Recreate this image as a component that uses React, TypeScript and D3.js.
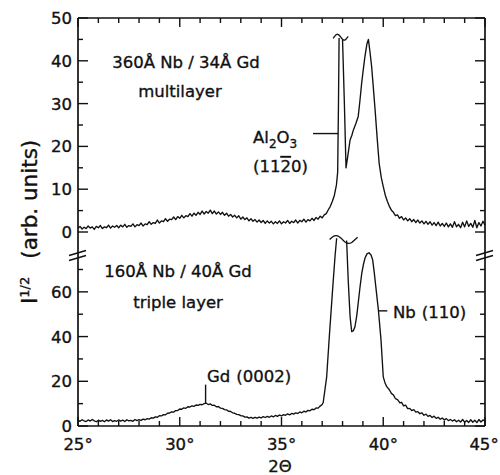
import React from "react";
import * as d3 from "d3";

// ---- data: [2θ (deg), I^1/2 (arb. units)]; NaN marks the off-scale (broken) top of the substrate peak
const multilayer: [number, number][] = [
  [25.0,0.9],[25.1,1.3],[25.2,0.7],[25.3,1.1],[25.4,0.8],[25.5,1.4],[25.6,0.9],[25.7,1.2],[25.8,0.6],[25.9,1.3],
  [26.0,1.0],[26.1,1.5],[26.2,0.8],[26.3,1.2],[26.4,1.0],[26.5,1.6],[26.6,0.9],[26.7,1.4],[26.8,1.1],[26.9,1.5],
  [27.0,1.0],[27.1,1.6],[27.2,1.2],[27.3,1.8],[27.4,1.1],[27.5,1.5],[27.6,1.3],[27.7,1.9],[27.8,1.2],[27.9,1.7],
  [28.0,1.5],[28.1,2.1],[28.2,1.4],[28.3,1.9],[28.4,1.7],[28.5,2.4],[28.6,1.8],[28.7,2.2],[28.8,2.0],[28.9,2.8],
  [29.0,2.1],[29.1,2.6],[29.2,2.4],[29.3,3.1],[29.4,2.5],[29.5,3.0],[29.6,2.9],[29.7,3.5],[29.8,2.9],[29.9,3.6],
  [30.0,3.2],[30.1,3.9],[30.2,3.3],[30.3,3.8],[30.4,3.6],[30.5,4.3],[30.6,3.7],[30.7,4.4],[30.8,3.9],[30.9,4.6],
  [31.0,4.1],[31.1,4.9],[31.2,4.2],[31.3,4.8],[31.4,4.4],[31.5,5.1],[31.6,4.3],[31.7,4.9],[31.8,4.2],[31.9,4.7],
  [32.0,4.1],[32.1,4.6],[32.2,3.9],[32.3,4.4],[32.4,3.7],[32.5,4.1],[32.6,3.5],[32.7,3.9],[32.8,3.3],[32.9,3.8],
  [33.0,3.0],[33.1,3.5],[33.2,2.9],[33.3,3.3],[33.4,2.6],[33.5,3.1],[33.6,2.5],[33.7,2.9],[33.8,2.3],[33.9,2.8],
  [34.0,2.2],[34.1,2.7],[34.2,2.0],[34.3,2.6],[34.4,2.1],[34.5,2.5],[34.6,1.9],[34.7,2.4],[34.8,2.0],[34.9,2.6],
  [35.0,1.9],[35.1,2.4],[35.2,2.1],[35.3,2.7],[35.4,2.0],[35.5,2.5],[35.6,2.2],[35.7,2.8],[35.8,2.1],[35.9,2.7],
  [36.0,2.4],[36.1,3.0],[36.2,2.3],[36.3,2.9],[36.4,2.6],[36.5,3.2],[36.6,2.7],[36.7,3.4],[36.8,3.0],[36.9,3.7],
  [37.0,3.3],[37.1,4.0],[37.2,4.3],[37.3,5.2],[37.4,6.0],[37.5,7.2],[37.6,8.6],[37.7,11.0],[37.76,14.0],[37.8,30.0],
  [37.83,45.3],[37.9,NaN],[38.0,44.9],[38.09,30.0],[38.17,15.0],[38.25,17.5],[38.37,21.5],[38.45,22.5],[38.53,23.8],
  [38.66,25.4],[38.77,27.0],[38.85,30.5],[38.94,34.8],[39.02,38.0],[39.1,41.0],[39.2,44.0],[39.27,45.0],[39.35,42.0],
  [39.43,38.6],[39.5,34.5],[39.6,28.5],[39.7,22.0],[39.8,16.0],[39.9,12.8],[40.0,10.6],[40.1,8.6],[40.2,7.2],
  [40.3,6.0],[40.4,5.1],[40.5,4.6],[40.6,3.8],[40.7,4.0],[40.8,3.2],[40.9,3.6],[41.0,2.8],[41.1,3.3],[41.2,2.6],
  [41.3,3.1],[41.4,2.4],[41.5,2.9],[41.6,2.2],[41.7,2.8],[41.8,2.1],[41.9,2.6],[42.0,1.9],[42.1,2.5],[42.2,1.8],
  [42.3,2.4],[42.4,1.6],[42.5,2.2],[42.6,1.5],[42.7,2.3],[42.8,1.4],[42.9,2.0],[43.0,1.3],[43.1,2.1],[43.2,1.2],
  [43.3,1.9],[43.4,1.1],[43.5,2.4],[43.6,1.2],[43.7,1.8],[43.8,1.0],[43.9,2.3],[44.0,1.2],[44.1,2.6],[44.2,1.3],
  [44.3,2.0],[44.4,1.1],[44.5,2.7],[44.6,1.0],[44.7,2.2],[44.8,1.4],[44.9,2.5],[45.0,1.6],
];

const tripleLayer: [number, number][] = [
  [25.0,2.6],[25.1,2.1],[25.2,2.8],[25.3,2.3],[25.4,2.0],[25.5,2.7],[25.6,2.2],[25.7,2.9],[25.8,2.3],[25.9,1.9],
  [26.0,2.6],[26.1,2.1],[26.2,2.5],[26.3,1.9],[26.4,2.7],[26.5,2.2],[26.6,2.8],[26.7,2.0],[26.8,2.4],[26.9,2.1],
  [27.0,2.7],[27.1,2.2],[27.2,2.6],[27.3,2.0],[27.4,2.8],[27.5,2.3],[27.6,2.5],[27.7,2.1],[27.8,2.9],[27.9,2.4],
  [28.0,2.8],[28.1,2.5],[28.2,3.1],[28.3,2.8],[28.4,3.3],[28.5,3.1],[28.6,3.7],[28.7,3.5],[28.8,4.1],[28.9,3.9],
  [29.0,4.6],[29.1,4.5],[29.2,5.1],[29.3,5.0],[29.4,5.7],[29.5,5.8],[29.6,6.3],[29.7,6.2],[29.8,6.9],[29.9,6.9],
  [30.0,7.6],[30.1,7.5],[30.2,8.1],[30.3,7.9],[30.4,8.6],[30.5,8.5],[30.6,9.0],[30.7,8.8],[30.8,9.4],[30.9,9.2],
  [31.0,9.7],[31.1,9.5],[31.2,10.0],[31.3,10.2],[31.4,9.6],[31.5,9.9],[31.6,9.2],[31.7,9.3],[31.8,8.6],[31.9,8.7],
  [32.0,8.0],[32.1,7.9],[32.2,7.3],[32.3,7.2],[32.4,6.6],[32.5,6.5],[32.6,5.9],[32.7,5.7],[32.8,5.2],[32.9,5.1],
  [33.0,4.6],[33.1,4.5],[33.2,4.0],[33.3,4.1],[33.4,3.5],[33.5,3.9],[33.6,3.4],[33.7,3.9],[33.8,3.5],[33.9,4.0],
  [34.0,3.6],[34.1,4.2],[34.2,3.8],[34.3,4.3],[34.4,3.9],[34.5,4.5],[34.6,4.1],[34.7,4.7],[34.8,4.3],[34.9,4.9],
  [35.0,4.5],[35.1,5.1],[35.2,4.8],[35.3,5.4],[35.4,5.0],[35.5,5.6],[35.6,5.3],[35.7,5.9],[35.8,5.6],[35.9,6.3],
  [36.0,5.9],[36.1,6.6],[36.2,6.3],[36.3,7.0],[36.4,6.8],[36.5,7.5],[36.6,7.3],[36.7,8.1],[36.8,8.0],[36.9,8.9],
  [37.0,9.6],[37.05,10.5],[37.22,22.0],[37.35,40.0],[37.51,60.9],[37.63,75.8],[37.71,84.0],[37.9,NaN],[38.2,83.0],
  [38.28,65.0],[38.37,49.0],[38.45,42.2],[38.53,42.6],[38.61,44.4],[38.7,49.5],[38.77,55.0],[38.85,61.5],[38.94,68.0],
  [39.02,72.0],[39.1,75.0],[39.2,77.0],[39.3,77.5],[39.4,76.5],[39.48,74.3],[39.56,68.5],[39.65,61.0],[39.76,52.0],
  [39.89,38.5],[40.0,22.0],[40.08,19.5],[40.17,17.6],[40.3,16.2],[40.4,14.6],[40.5,13.9],[40.6,12.2],[40.7,11.8],
  [40.82,10.3],[40.9,10.6],[41.0,9.0],[41.1,9.3],[41.2,7.8],[41.3,7.9],[41.4,6.9],[41.5,7.3],[41.6,6.2],[41.7,6.4],
  [41.8,5.5],[41.9,5.9],[42.0,4.8],[42.1,5.3],[42.2,4.3],[42.3,4.7],[42.4,3.8],[42.5,4.4],[42.6,3.4],[42.7,3.9],
  [42.8,3.0],[42.9,3.6],[43.0,2.7],[43.1,3.3],[43.2,2.4],[43.3,2.9],[43.4,2.2],[43.5,2.8],[43.6,1.9],[43.7,2.6],
  [43.8,1.8],[43.9,2.9],[44.0,1.7],[44.1,2.5],[44.2,1.6],[44.3,2.8],[44.4,1.7],[44.5,2.6],[44.6,1.5],[44.7,2.9],
  [44.8,1.8],[44.9,2.7],[45.0,2.2],
];

const xTicks = [25, 30, 35, 40, 45];
const upperTicks = [0, 10, 20, 30, 40, 50];
const lowerTicks = [0, 20, 40, 60];

const FONT = "'DejaVu Sans', sans-serif";

function tilde(x0: number, x1: number, yc: number, amp: number, a: number, b: number) {
  const pts: [number, number][] = d3.range(0, 1.0001, 0.05).map((t) => [
    x0 + (x1 - x0) * t,
    yc - amp * Math.sin(2 * Math.PI * (a * t + b)),
  ]);
  return d3.line().curve(d3.curveBasis)(pts) || "";
}

export default function App() {
  const L = 78, R = 485, T = 18, B = 426;
  const x = d3.scaleLinear().domain([25, 45]).range([L, R]);
  const yU = d3.scaleLinear().domain([0, 50]).range([232, T]);
  const yL = d3.scaleLinear().domain([0, 70]).range([B, 269.5]);

  const lineU = d3.line<[number, number]>().defined((d) => !isNaN(d[1])).x((d) => x(d[0])).y((d) => yU(d[1]));
  const lineL = d3.line<[number, number]>().defined((d) => !isNaN(d[1])).x((d) => x(d[0])).y((d) => yL(d[1]));

  const degMinor = d3.range(25, 46, 1);
  const uMinor = d3.range(0, 51, 5);
  const lMinor = d3.range(0, 71, 10);

  const stroke = "#111";
  const breakY = 253;
  const textStroke = { stroke: stroke, strokeWidth: 0.35 };

  return (
    <svg width={500} height={475} style={{ position: "absolute", left: 0, top: 0, background: "#fff" }} fontFamily={FONT}>
      <rect x={0} y={0} width={500} height={475} fill="#fff" />
      {/* frame */}
      <g stroke={stroke} strokeWidth={1.7} fill="none">
        <line x1={L} x2={R} y1={T} y2={T} />
        <line x1={L} x2={R} y1={B} y2={B} />
        <line x1={L} x2={L} y1={T} y2={B} />
        <line x1={R} x2={R} y1={T} y2={B} />
      </g>
      {/* ticks */}
      <g stroke={stroke} strokeWidth={1.4}>
        {degMinor.map((d) => {
          const len = d % 5 === 0 ? 9 : 5;
          return (
            <g key={d}>
              <line x1={x(d)} x2={x(d)} y1={B} y2={B - len} />
              <line x1={x(d)} x2={x(d)} y1={T} y2={T + len} />
            </g>
          );
        })}
        {uMinor.map((v) => {
          const len = v % 10 === 0 ? 10 : 5;
          return (
            <g key={"u" + v}>
              <line x1={L} x2={L + len} y1={yU(v)} y2={yU(v)} />
              <line x1={R} x2={R - len} y1={yU(v)} y2={yU(v)} />
            </g>
          );
        })}
        {lMinor.map((v) => {
          const len = v % 20 === 0 ? 10 : 5;
          return (
            <g key={"l" + v}>
              <line x1={L} x2={L + len} y1={yL(v)} y2={yL(v)} />
              <line x1={R} x2={R - len} y1={yL(v)} y2={yL(v)} />
            </g>
          );
        })}
      </g>
      {/* axis breaks */}
      <g stroke={stroke} strokeWidth={1.6}>
        {[L, R].map((ax) => (
          <g key={ax}>
            <line x1={ax - 9} x2={ax + 8} y1={breakY + 2.5} y2={breakY - 2.5} />
            <line x1={ax - 9} x2={ax + 8} y1={breakY + 7.5} y2={breakY + 2.5} />
          </g>
        ))}
      </g>
      {/* tick labels */}
      <g fontSize={16.5} fill={stroke} {...textStroke}>
        {upperTicks.map((v) => (
          <text key={"tu" + v} x={L - 6} y={yU(v)} dy="0.36em" textAnchor="end">{v}</text>
        ))}
        {lowerTicks.map((v) => (
          <text key={"tl" + v} x={L - 6} y={yL(v)} dy="0.36em" textAnchor="end">{v}</text>
        ))}
        {xTicks.map((d) => (
          <text key={"tx" + d} x={Math.min(x(d), 484)} y={450} textAnchor="middle">{d}°</text>
        ))}
        <text x={280} y={472} textAnchor="middle">2Θ</text>
      </g>
      {/* y axis title */}
      <text transform="translate(37,304) rotate(-90)" textAnchor="start" fontSize={21.5} fill={stroke} {...textStroke}>
        I<tspan dy={-8} fontSize={13}>1/2</tspan>
        <tspan dy={8} dx={18}>(arb. units)</tspan>
      </text>
      {/* traces */}
      <path d={lineU(multilayer) || ""} fill="none" stroke={stroke} strokeWidth={1.35} strokeLinejoin="round" />
      <path d={lineL(tripleLayer) || ""} fill="none" stroke={stroke} strokeWidth={1.35} strokeLinejoin="round" />
      {/* off-scale marks */}
      <path d={tilde(x(37.71) - 3.5, x(37.71) + 11.5, 37.2, 3, 1.1, -0.06)} fill="none" stroke={stroke} strokeWidth={1.3} />
      <path d={tilde(x(37.71) - 7, x(37.71) + 21, 239.5, 4, 1.1, 0)} fill="none" stroke={stroke} strokeWidth={1.3} />
      {/* annotations */}
      <g fontSize={16.5} fill={stroke} {...textStroke}>
        <text x={186} y={68} textAnchor="middle">360Å Nb / 34Å Gd</text>
        <text x={180} y={97} textAnchor="middle">multilayer</text>
        <text x={253} y={143}>Al<tspan dy={5} fontSize={12}>2</tspan><tspan dy={-5}>O</tspan><tspan dy={5} fontSize={12}>3</tspan></text>
        <text x={253} y={172}>(11<tspan textDecoration="overline">2</tspan>0)</text>
        <text x={178} y={277} textAnchor="middle">160Å Nb / 40Å Gd</text>
        <text x={178} y={308} textAnchor="middle">triple layer</text>
        <text x={207} y={382}>Gd<tspan dx={6}>(0002)</tspan></text>
        <text x={393} y={318}>Nb<tspan dx={6}>(110)</tspan></text>
      </g>
      <g stroke={stroke} strokeWidth={1.4}>
        <line x1={313} x2={x(37.79)} y1={yU(23)} y2={yU(23)} />
        <line x1={x(31.27)} x2={x(31.27)} y1={yL(18.5)} y2={yL(10.2)} />
        <line x1={x(39.76)} x2={x(40.2)} y1={yL(51.5)} y2={yL(51.5)} />
      </g>
    </svg>
  );
}
